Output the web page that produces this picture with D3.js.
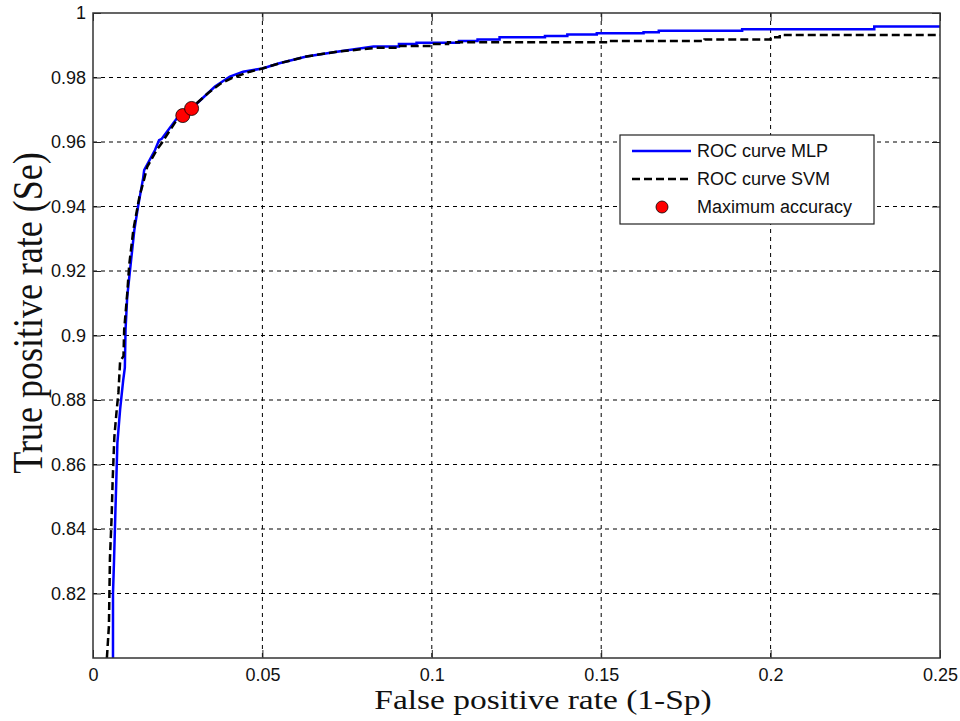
<!DOCTYPE html>
<html>
<head>
<meta charset="utf-8">
<script src="https://cdn.jsdelivr.net/npm/d3@7"></script>
<style>
  body { margin: 0; background: #fff; }
  svg { display: block; }
</style>
</head>
<body>
<svg></svg>
<script>
// ROC curve: false positive rate / true positive rate
const mlpFpr = [0.0059, 0.0059, 0.0062, 0.0066, 0.0072, 0.0080, 0.0089, 0.0094, 0.0096, 0.0101, 0.0109, 0.0122,
  0.0133, 0.0148, 0.0151, 0.0183, 0.0195, 0.0203, 0.0251, 0.0265, 0.0291, 0.0360, 0.0404, 0.0443, 0.0500,
  0.0550, 0.0630, 0.0720, 0.0828, 0.0903, 0.0903, 0.0955, 0.0955, 0.1080, 0.1080, 0.1135, 0.1135, 0.1200,
  0.1200, 0.1334, 0.1334, 0.1400, 0.1400, 0.1487, 0.1487, 0.1625, 0.1625, 0.1670, 0.1670, 0.1916, 0.1916,
  0.2306, 0.2306, 0.2500];
const mlpTpr = [0.800, 0.820, 0.830, 0.845, 0.8667, 0.877, 0.886, 0.890, 0.9017, 0.912, 0.920, 0.9327,
  0.940, 0.9488, 0.9513, 0.9575, 0.9606, 0.9610, 0.9678, 0.9682, 0.9704, 0.9772, 0.9803, 0.9818, 0.9828,
  0.9844, 0.9865, 0.9880, 0.9896, 0.9896, 0.9904, 0.9904, 0.9908, 0.9908, 0.9913, 0.9913, 0.9918, 0.9918,
  0.9925, 0.9925, 0.9929, 0.9929, 0.9933, 0.9933, 0.9937, 0.9937, 0.9940, 0.9940, 0.9945, 0.9945, 0.9950,
  0.9950, 0.9958, 0.9958];

const svmFpr = [0.0041, 0.0047, 0.0050, 0.0055, 0.0058, 0.0063, 0.0070, 0.0075, 0.0080, 0.0090, 0.0092,
  0.0101, 0.0107, 0.0119, 0.0137, 0.0151, 0.0160, 0.0188, 0.0203, 0.0222, 0.0247, 0.0306, 0.0340, 0.0375,
  0.0414, 0.0463, 0.0500, 0.0550, 0.0630, 0.0720, 0.0836, 0.0901, 0.0901, 0.0998, 0.0998, 0.1048, 0.1048,
  0.1525, 0.1525, 0.1805, 0.1805, 0.2000, 0.2000, 0.2027, 0.2027, 0.2500];
const svmTpr = [0.800, 0.810, 0.831, 0.8437, 0.855, 0.8685, 0.877, 0.8822, 0.892, 0.8936, 0.9017,
  0.913, 0.922, 0.9327, 0.943, 0.9485, 0.9523, 0.9575, 0.9597, 0.9628, 0.9668, 0.9720, 0.9752, 0.9780,
  0.9800, 0.9818, 0.9828, 0.9844, 0.9865, 0.9880, 0.9892, 0.9892, 0.9898, 0.9898, 0.9904, 0.9904, 0.9909,
  0.9909, 0.9913, 0.9913, 0.9918, 0.9918, 0.9925, 0.9925, 0.9932, 0.9932];

const bestFpr = [0.0265, 0.0291];
const bestTpr = [0.9682, 0.9704];

const xTicks = [0, 0.05, 0.1, 0.15, 0.2, 0.25];
const xTickLabels = ['0', '0.05', '0.1', '0.15', '0.2', '0.25'];
const yTicks = [0.82, 0.84, 0.86, 0.88, 0.9, 0.92, 0.94, 0.96, 0.98, 1];
const yTickLabels = ['0.82', '0.84', '0.86', '0.88', '0.9', '0.92', '0.94', '0.96', '0.98', '1'];

const legendLabels = ['ROC curve MLP', 'ROC curve SVM', 'Maximum accuracy'];

const width = 960;
const height = 721;
const margin = {left: 93, top: 13, right: 20, bottom: 63};
const plotW = width - margin.left - margin.right;
const plotH = height - margin.top - margin.bottom;

const x = d3.scaleLinear().domain([0, 0.25]).range([0, plotW]);
const y = d3.scaleLinear().domain([0.8, 1]).range([plotH, 0]);

const svg = d3.select('svg')
    .attr('width', width)
    .attr('height', height);

const g = svg.append('g')
    .attr('transform', `translate(${margin.left}, ${margin.top})`);

g.append('clipPath')
    .attr('id', 'clip')
  .append('rect')
    .attr('width', plotW)
    .attr('height', plotH);

// dotted grid
g.append('g')
  .selectAll('line')
  .data(xTicks.slice(1, -1))
  .join('line')
    .attr('x1', d => x(d)).attr('x2', d => x(d))
    .attr('y1', 0).attr('y2', plotH)
    .attr('stroke', '#000')
    .attr('stroke-dasharray', '4,4');

g.append('g')
  .selectAll('line')
  .data(yTicks.slice(0, -1))
  .join('line')
    .attr('y1', d => y(d)).attr('y2', d => y(d))
    .attr('x1', 0).attr('x2', plotW)
    .attr('stroke', '#000')
    .attr('stroke-dasharray', '4,4');

// axes (ticks inward, like the matlab box)
const tickFont = '18px "Liberation Sans", Arial, sans-serif';

g.append('g')
    .attr('transform', `translate(0, ${plotH})`)
    .call(d3.axisBottom(x).tickValues(xTicks).tickSizeInner(-8).tickSizeOuter(0)
      .tickPadding(10).tickFormat((d, i) => xTickLabels[i]));

g.append('g')
    .call(d3.axisLeft(y).tickValues(yTicks).tickSizeInner(-8).tickSizeOuter(0)
      .tickPadding(7).tickFormat((d, i) => yTickLabels[i]));

g.append('g')
    .call(d3.axisTop(x).tickValues(xTicks).tickSizeInner(-8).tickSizeOuter(0).tickFormat(''));
g.append('g')
    .attr('transform', `translate(${plotW}, 0)`)
    .call(d3.axisRight(y).tickValues(yTicks).tickSizeInner(-8).tickSizeOuter(0).tickFormat(''));

g.selectAll('.domain').remove();
g.selectAll('.tick line').attr('stroke', '#222');
g.selectAll('.tick text')
    .style('font', tickFont)
    .attr('fill', '#111');

// curves
const line = d3.line()
    .x(d => x(d[0]))
    .y(d => y(d[1]));

const mlp = mlpFpr.map((f, i) => [f, mlpTpr[i]]);
const svm = svmFpr.map((f, i) => [f, svmTpr[i]]);

const curves = g.append('g').attr('clip-path', 'url(#clip)');

curves.append('path')
    .datum(mlp)
    .attr('d', line)
    .attr('fill', 'none')
    .attr('stroke', '#0000ff')
    .attr('stroke-width', 2.5);

curves.append('path')
    .datum(svm)
    .attr('d', line)
    .attr('fill', 'none')
    .attr('stroke', '#000')
    .attr('stroke-width', 2.5)
    .attr('stroke-dasharray', '8,4');

curves.selectAll('circle')
  .data(bestFpr.map((f, i) => [f, bestTpr[i]]))
  .join('circle')
    .attr('cx', d => x(d[0]))
    .attr('cy', d => y(d[1]))
    .attr('r', 7)
    .attr('fill', '#ff0000')
    .attr('stroke', '#000')
    .attr('stroke-width', 0.8);

// box
g.append('rect')
    .attr('width', plotW)
    .attr('height', plotH)
    .attr('fill', 'none')
    .attr('stroke', '#333')
    .attr('stroke-width', 1.5);

// legend
const legend = g.append('g')
    .attr('transform', `translate(${620 - margin.left}, ${135 - margin.top})`);

legend.append('rect')
    .attr('width', 254)
    .attr('height', 89)
    .attr('fill', '#fff')
    .attr('stroke', '#222')
    .attr('stroke-width', 1.2);

const rows = legend.selectAll('.row')
  .data(legendLabels)
  .join('g')
    .attr('class', 'row')
    .attr('transform', (d, i) => `translate(0, ${16 + i * 28})`);

rows.append('text')
    .attr('x', 77)
    .attr('y', 6)
    .text(d => d)
    .style('font', tickFont)
    .attr('fill', '#111');

rows.filter((d, i) => i === 0).append('line')
    .attr('x1', 12).attr('x2', 71)
    .attr('stroke', '#0000ff').attr('stroke-width', 2.5);

rows.filter((d, i) => i === 1).append('line')
    .attr('x1', 12).attr('x2', 71)
    .attr('stroke', '#000').attr('stroke-width', 2.5)
    .attr('stroke-dasharray', '8,4');

rows.filter((d, i) => i === 2).append('circle')
    .attr('cx', 42).attr('cy', 0).attr('r', 6)
    .attr('fill', '#ff0000').attr('stroke', '#000').attr('stroke-width', 0.8);

// axis titles (the source figure is stretched a little, hence the scale)
svg.append('text')
    .attr('transform', 'translate(543, 709) scale(1.24, 1)')
    .attr('text-anchor', 'middle')
    .style('font', '27px "Liberation Serif", "Times New Roman", serif')
    .attr('fill', '#111')
    .text('False positive rate (1-Sp)');

svg.append('text')
    .attr('transform', 'translate(42, 313) rotate(-90) scale(1, 1.18)')
    .attr('text-anchor', 'middle')
    .style('font', '36px "Liberation Serif", "Times New Roman", serif')
    .attr('fill', '#111')
    .text('True positive rate (Se)');
</script>
</body>
</html>
